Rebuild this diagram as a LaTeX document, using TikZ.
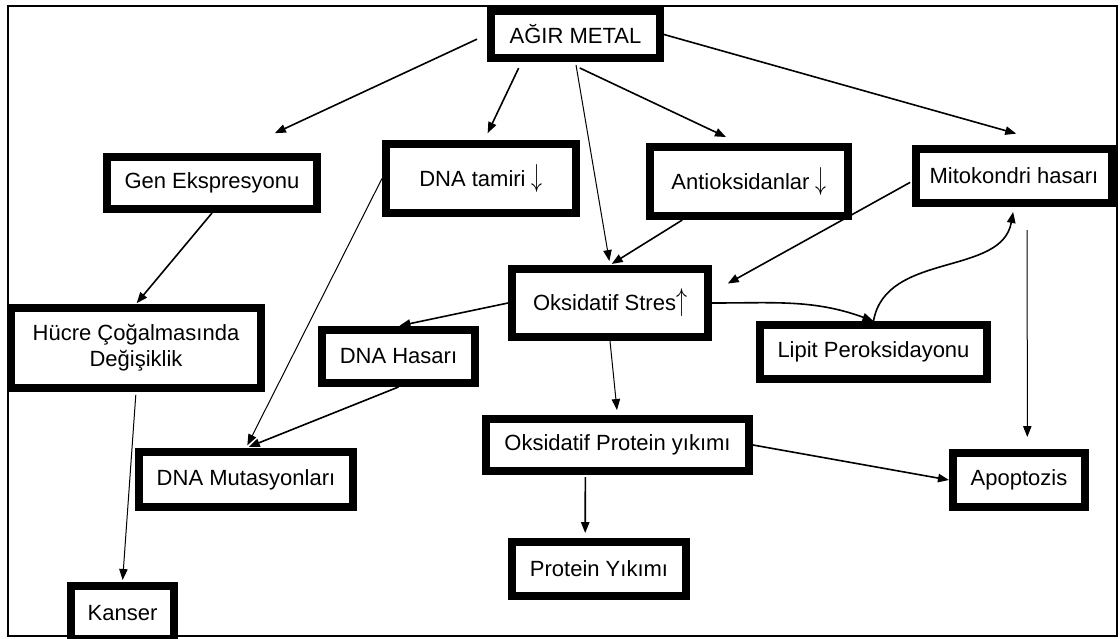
\documentclass[tikz,border=0pt]{standalone}
\usepackage{fontspec}
\setmainfont{Liberation Sans}
\usepackage{graphicx}
\usetikzlibrary{arrows.meta}
\newcommand{\arrdown}{\scalebox{1}[1.45]{$\downarrow$}}
\newcommand{\arrup}{\scalebox{1}[1.45]{$\uparrow$}}
\begin{document}
\begin{tikzpicture}[x=0.5pt, y=-0.5pt,
  box/.style={shape=rectangle, draw=black, line width=4pt, inner sep=0pt, align=center, font=\fontsize{11}{13}\selectfont},
  conn/.style={-{Triangle[length=5.5pt,width=4.2pt]}, line width=0.8pt, draw=black},
  thinconn/.style={conn, line width=0.5pt}]
\useasboundingbox (0,0) rectangle (1120,638);
\draw[line width=1.2pt] (8,6) rectangle (1117,636);
\node[box, minimum width=84.5pt, minimum height=23.5pt] (agir) at (575.5,34.5) {AĞIR METAL};
\node[box, minimum width=105pt, minimum height=26pt] (gen) at (212,183) {Gen Ekspresyonu};
\node[box, minimum width=95pt, minimum height=34.5pt] (tamir) at (481,178.5) {DNA tamiri \arrdown};
\node[box, minimum width=99pt, minimum height=34.5pt] (antiok) at (749,181.5) {Antioksidanlar \arrdown};
\node[box, minimum width=98pt, minimum height=27pt] (mito) at (1014,176) {Mitokondri hasarı};
\node[box, minimum width=125pt, minimum height=40pt] (hucre) at (136,348) {Hücre Çoğalmasında\\Değişiklik};
\node[box, minimum width=98pt, minimum height=34pt] (stres) at (610,303) {Oksidatif Stres\arrup};
\node[box, minimum width=76.5pt, minimum height=26.5pt] (hasar) at (398.5,356.5) {DNA Hasarı};
\node[box, minimum width=113.5pt, minimum height=27pt] (lipit) at (873.5,352) {Lipit Peroksidayonu};
\node[box, minimum width=107pt, minimum height=27.5pt] (mutasyon) at (246,479.5) {DNA Mutasyonları};
\node[box, minimum width=131.5pt, minimum height=26pt] (oksprot) at (617.5,445) {Oksidatif Protein yıkımı};
\node[box, minimum width=66pt, minimum height=27pt] (apop) at (1019,480) {Apoptozis};
\node[box, minimum width=87pt, minimum height=27pt] (protein) at (599,569) {Protein Yıkımı};
\node[box, minimum width=51.5pt, minimum height=27pt] (kanser) at (122.5,613) {Kanser};
\path (agir.west) edge [conn, shorten <=5.5pt, shorten >=23.5pt] (gen.56);
\path (agir.207) edge [conn, shorten <=3.4pt, shorten >=3.8pt] (tamir.85);
\path (agir.south) edge [thinconn, shorten <=1.5pt, shorten >=2pt] (stres.north);
\path (agir.253) edge [conn, shorten <=7pt, shorten >=7pt] (antiok.105);
\path (agir.east) edge [conn, shorten >=21pt] (mito.36);
\path (gen.south) edge [conn, shorten >=0.5pt] (hucre.north);
\path (hucre.south) edge [thinconn, shorten <=1.5pt, shorten >=1pt] (kanser.north);
\path (tamir.west) edge [thinconn, shorten >=1.5pt] (mutasyon.north);
\path (hasar.south) edge [conn, shorten >=1.5pt] (mutasyon.north);
\path (stres.west) edge [conn, shorten >=0.5pt] (hasar.north);
\path (stres.south) edge [thinconn, shorten >=2.5pt] (oksprot.north);
\path (antiok.210) edge [conn, shorten >=1pt] (stres.north);
\path (mito.183) edge [conn, shorten <=1pt, shorten >=9pt] (stres.6);
\path (stres.east) edge [conn, out=0, in=160] (lipit.north);
\path (lipit.north) edge [conn, shorten >=2.5pt, out=80, in=-100] (mito.south);
\path (mito.-67) edge [thinconn, shorten <=11.5pt, shorten >=6pt] (apop.75);
\path (oksprot.east) edge [conn] (apop.west);
\path (oksprot.223) edge [conn, shorten <=1pt, shorten >=2.5pt] (protein.114);
\end{tikzpicture}
\end{document}
